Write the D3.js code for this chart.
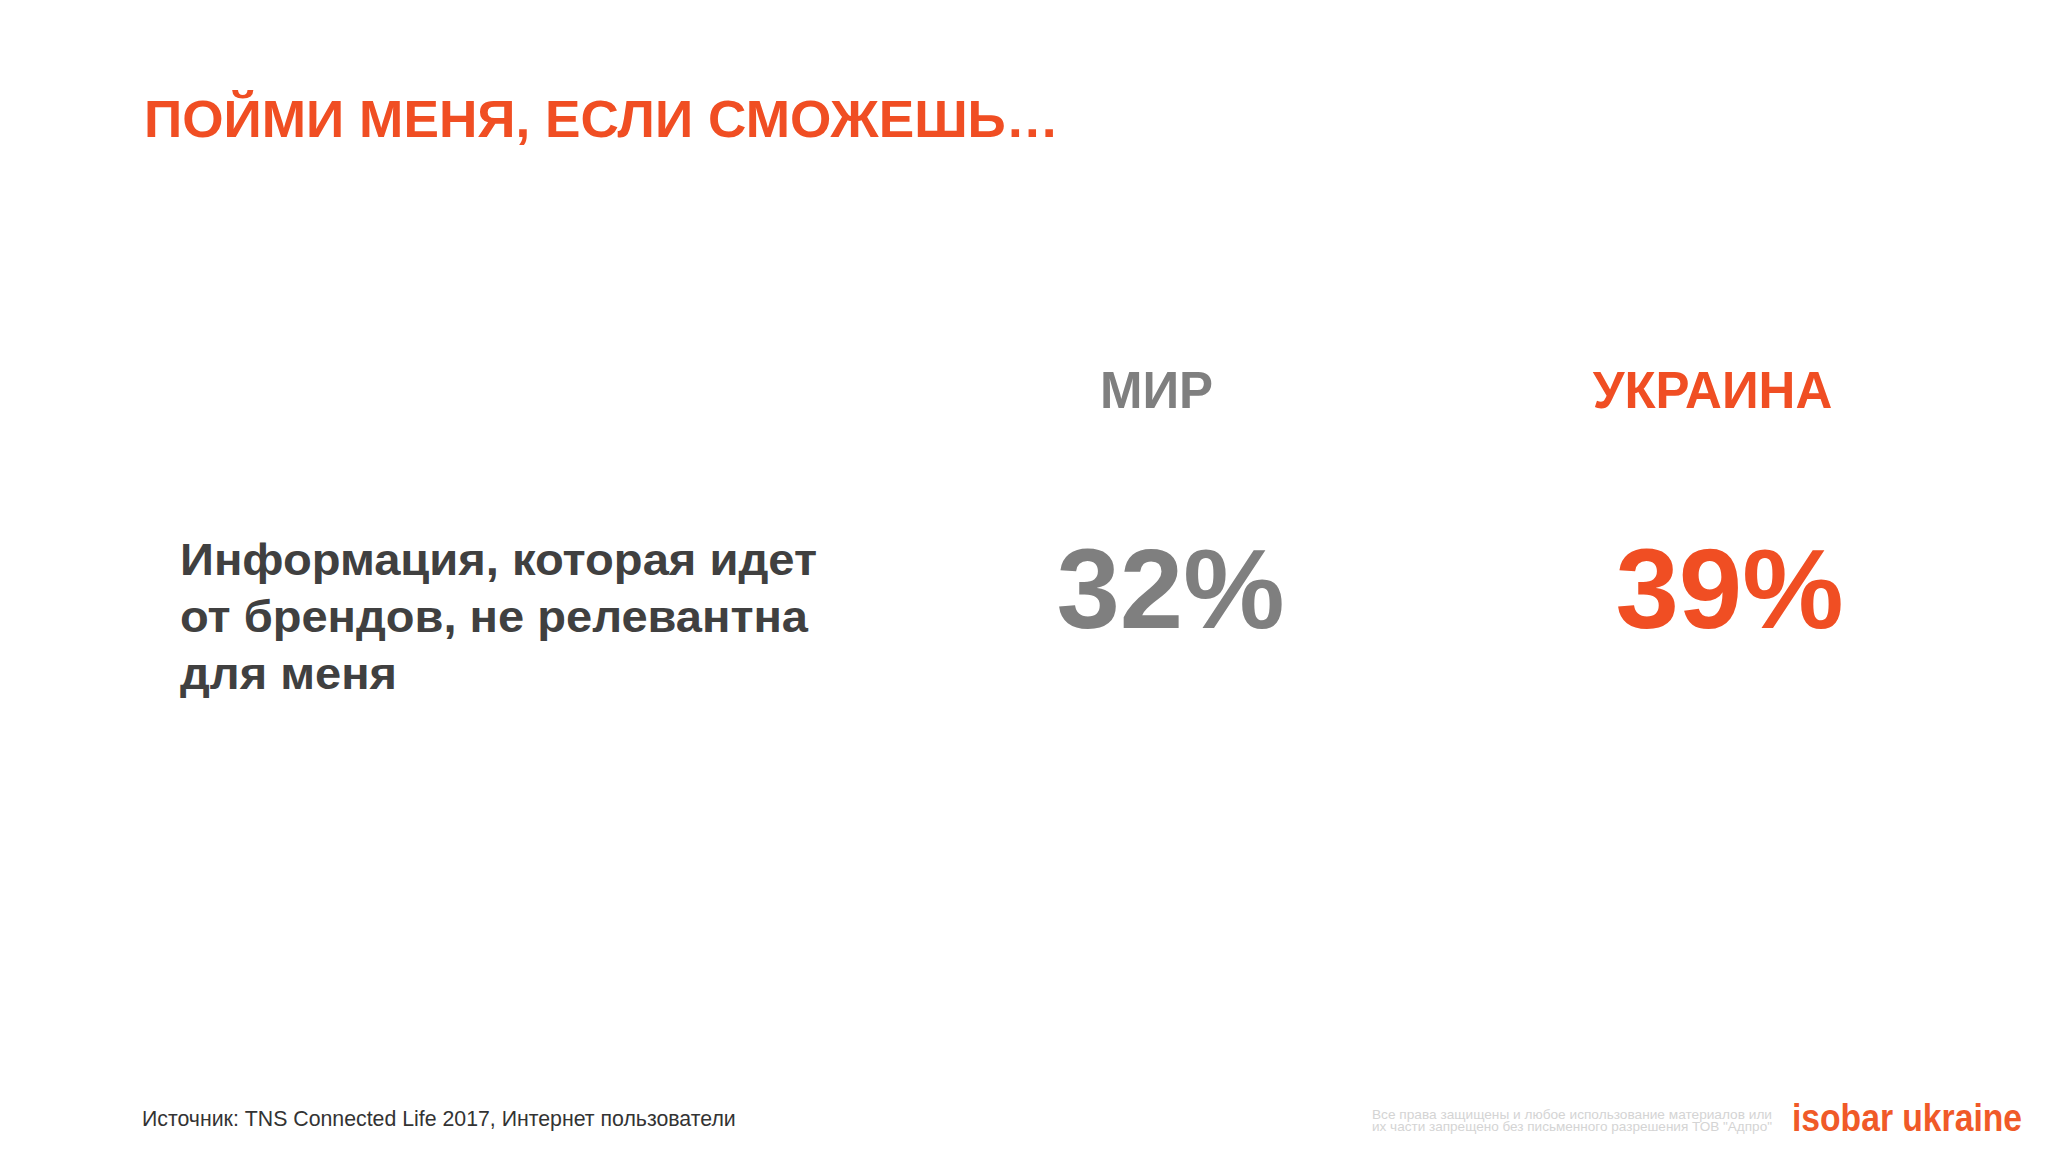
<!DOCTYPE html>
<html><head><meta charset="utf-8">
<script src="https://cdn.jsdelivr.net/npm/d3@7"></script>
<style>body{margin:0;background:#fff}svg{display:block}</style>
</head><body>
<script>
const categories = ["МИР", "УКРАИНА"];
const values = [32, 39];
const colors = ["#7f7f7f", "#f04e23"];
const labelLines = ["Информация, которая идет", "от брендов, не релевантна", "для меня"];

const W = 2048, H = 1152;
const svg = d3.select("body").append("svg").attr("width", W).attr("height", H);
svg.append("rect").attr("width", W).attr("height", H).attr("fill", "#fff");
const F = "Liberation Sans, Arial, sans-serif";

svg.append("text").attr("x", 144).attr("y", 137).attr("font-family", F).attr("font-weight", "bold")
  .attr("font-size", 52).attr("fill", "#f04e23").attr("textLength", 915).attr("lengthAdjust", "spacingAndGlyphs")
  .text("ПОЙМИ МЕНЯ, ЕСЛИ СМОЖЕШЬ…");

const x = d3.scaleBand().domain(categories).range([885, 2015]).padding(0);
categories.forEach((c, i) => {
  const cx = x(c) + x.bandwidth() / 2 + (i === 0 ? -11 : -20);
  svg.append("text").attr("x", cx).attr("y", 408).attr("text-anchor", "middle").attr("font-family", F)
    .attr("font-weight", "bold").attr("font-size", 51).attr("fill", colors[i]).text(c);
  svg.append("text").attr("x", cx + (i === 0 ? 14 : 17)).attr("y", 628).attr("text-anchor", "middle").attr("font-family", F)
    .attr("font-weight", "bold").attr("font-size", 114).attr("fill", colors[i]).text(values[i] + "%");
});

const lens = [637, 628, 217];
labelLines.forEach((l, i) => {
  svg.append("text").attr("x", 180).attr("y", 575 + i * 57).attr("font-family", F).attr("font-weight", "bold")
    .attr("font-size", 44).attr("fill", "#404040").attr("textLength", lens[i]).attr("lengthAdjust", "spacingAndGlyphs").text(l);
});

svg.append("text").attr("x", 142).attr("y", 1126).attr("font-family", F).attr("font-size", 21.3)
  .attr("fill", "#333").text("Источник: TNS Connected Life 2017, Интернет пользователи");

["Все права защищены и любое использование материалов или", "их части запрещено без письменного разрешения ТОВ \"Адпро\""]
  .forEach((l, i) => svg.append("text").attr("x", 1772).attr("y", 1119 + i * 12).attr("text-anchor", "end")
    .attr("font-family", F).attr("font-size", 13).attr("fill", "#d4d4d4").attr("textLength", 400).attr("lengthAdjust", "spacingAndGlyphs").text(l));

svg.append("text").attr("x", 1792).attr("y", 1131).attr("font-family", F).attr("font-weight", "bold")
  .attr("font-size", 38).attr("fill", "#f05a28").attr("textLength", 230).attr("lengthAdjust", "spacingAndGlyphs")
  .text("isobar ukraine");
</script>
</body></html>
